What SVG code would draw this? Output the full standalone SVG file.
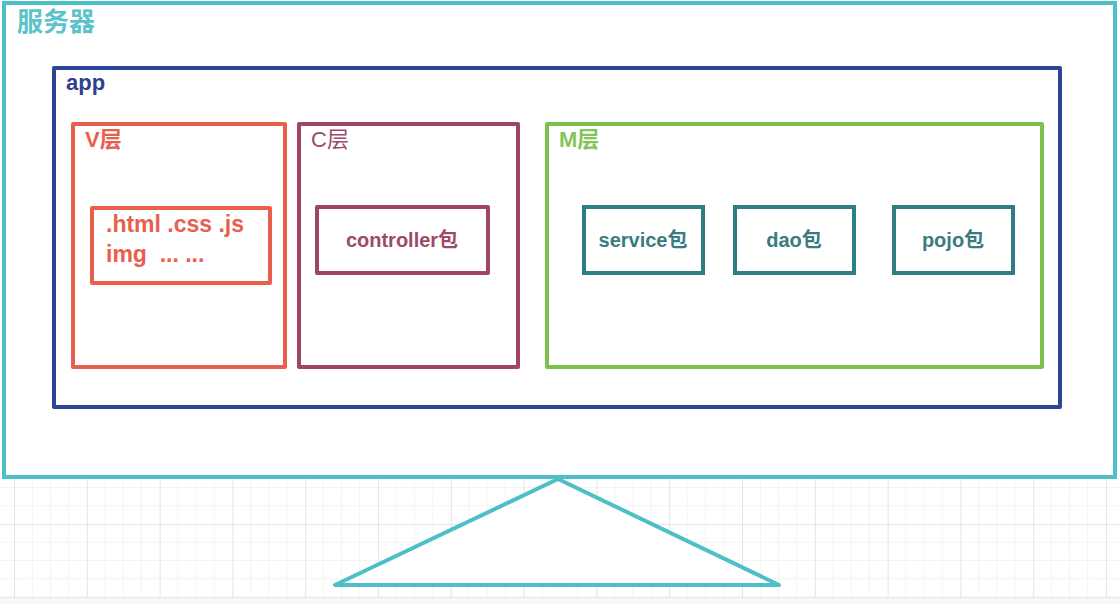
<svg xmlns="http://www.w3.org/2000/svg" width="1120" height="604" viewBox="0 0 1120 604">
<style>
  .box { fill: none; stroke-width: 4; stroke-linejoin: round; }
  .lbl { font-family: "Liberation Sans", "Noto Sans CJK SC", sans-serif; font-weight: bold; }
  .pkg { fill: #ffffff; stroke: #2E7D80; stroke-width: 4; }
  .pkgt { font-family: "Liberation Sans", "Noto Sans CJK SC", sans-serif; font-weight: bold; font-size: 20px; fill: #3A7B80; text-anchor: middle; }
</style>
<defs>
  <pattern id="grid" patternUnits="userSpaceOnUse" x="14" y="524" width="72.8" height="72.8">
    <path d="M18.2 0V72.8M36.4 0V72.8M54.6 0V72.8M0 18.2H72.8M0 36.4H72.8M0 54.6H72.8" stroke="#f3f3f3" stroke-width="1" fill="none"/>
    <path d="M0.5 0V72.8M0 0.5H72.8" stroke="#e4e4e4" stroke-width="1" fill="none"/>
  </pattern>
</defs>
<rect x="0" y="0" width="1120" height="604" fill="#ffffff"/>
<rect x="0" y="478" width="1120" height="120" fill="url(#grid)"/>
<rect x="0" y="598" width="1120" height="6" fill="#f7f7f7"/>

<g id="server">
  <rect x="4" y="3" width="1111" height="474" fill="#ffffff" stroke="#4DBFC6" stroke-width="4"/>
  <text x="17" y="31" class="lbl" font-size="26" fill="#5BC3C9">服务器</text>
  <polygon points="558,479 335,585 779,585" fill="#ffffff" stroke="#4DBFC6" stroke-width="4" stroke-linejoin="round"/>
</g>

<g id="app">
  <rect x="54" y="68" width="1006" height="339" class="box" stroke="#2C4697"/>
  <text x="66" y="90" class="lbl" font-size="22" fill="#2F3F8F">app</text>
</g>

<g id="v-layer">
  <rect x="73" y="124" width="212" height="243" class="box" stroke="#E8604D"/>
  <text x="85" y="147" class="lbl" font-size="22" fill="#E8604D">V层</text>
</g>
<g id="v-files">
  <rect x="92" y="208" width="178" height="75" class="box" stroke="#E8604D"/>
  <text x="106" y="232" class="lbl" font-size="23" fill="#E8604D">.html .css .js</text>
  <text x="106" y="262" class="lbl" font-size="23" fill="#E8604D" xml:space="preserve">img  ... ...</text>
</g>

<g id="c-layer">
  <rect x="299" y="124" width="219" height="243" class="box" stroke="#A0456A"/>
  <text x="311" y="147" font-family="Liberation Sans, Noto Sans CJK SC, sans-serif" font-size="22" fill="#9C4A6A">C层</text>
</g>
<g id="controller">
  <rect x="317" y="207" width="171" height="66" class="box" stroke="#A0456A"/>
  <text x="402" y="247" class="lbl" font-size="20" fill="#9C4A6A" text-anchor="middle">controller包</text>
</g>

<g id="m-layer">
  <rect x="547" y="124" width="495" height="243" class="box" stroke="#7DC14B"/>
  <text x="559" y="147" class="lbl" font-size="22" fill="#86C45A">M层</text>
</g>
<g id="service">
  <rect x="584" y="207" width="119" height="66" class="pkg"/>
  <text x="643" y="247" class="pkgt">service包</text>
</g>
<g id="dao">
  <rect x="735" y="207" width="119" height="66" class="pkg"/>
  <text x="794" y="247" class="pkgt">dao包</text>
</g>
<g id="pojo">
  <rect x="894" y="207" width="119" height="66" class="pkg"/>
  <text x="953" y="247" class="pkgt">pojo包</text>
</g>

<g id="connectors"></g>
</svg>
